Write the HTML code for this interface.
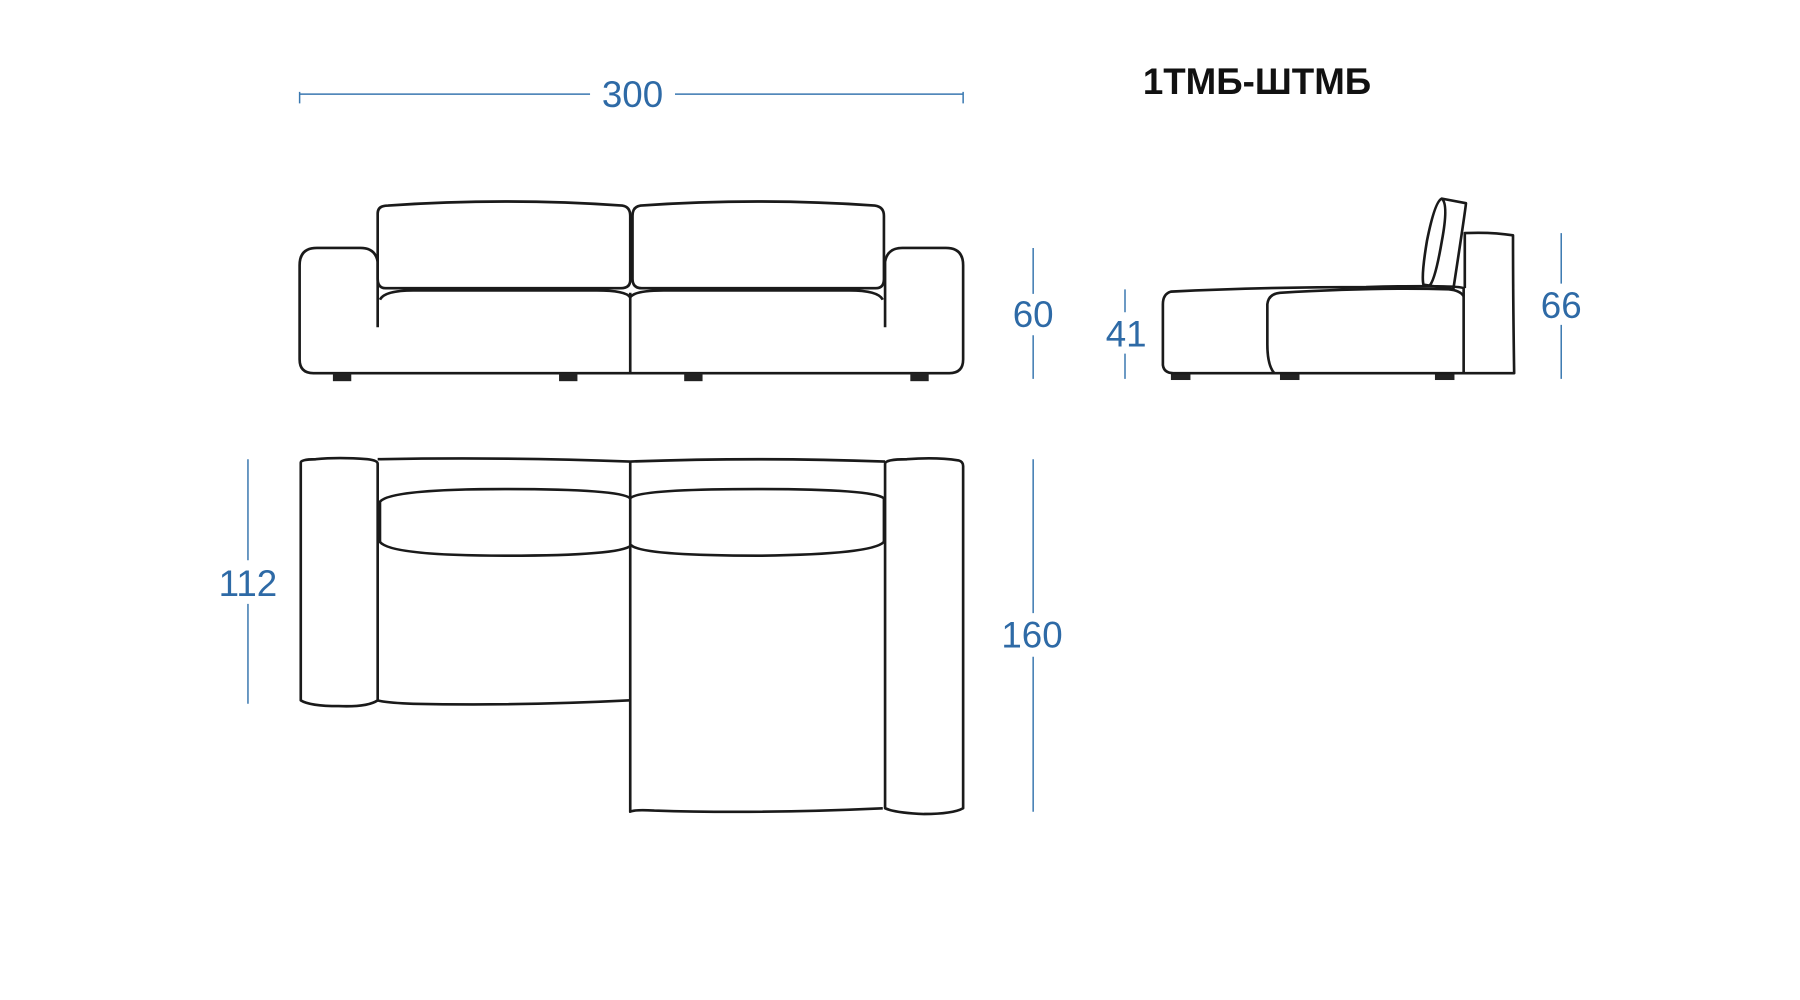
<!DOCTYPE html>
<html><head><meta charset="utf-8"><style>
html,body{margin:0;padding:0;background:#fff;width:1800px;height:1000px;overflow:hidden}
svg{display:block}
</style></head><body>
<svg width="1800" height="1000" viewBox="0 0 1568 871" preserveAspectRatio="none" xmlns="http://www.w3.org/2000/svg">
<rect width="1568" height="871" fill="#fff"/>
<g stroke="#3a78b0" stroke-width="1.3" fill="none">
<path d="M261 80 V90 M261 82 H514 M588 82 H839 M839 80 V90"/>
<path d="M900 216 V256 M900 292 V330"/>
<path d="M980 252 V272 M980 308 V330"/>
<path d="M1360 203 V247 M1360 283 V330"/>
<path d="M216 400 V488 M216 526 V613"/>
<path d="M900 400 V534 M900 572 V707"/>
</g>
<g fill="#2e6aa6" font-family="Liberation Sans, sans-serif" font-size="32" text-anchor="middle">
<text x="551" y="93">300</text>
<text x="900" y="285">60</text>
<text x="981" y="302">41</text>
<text x="1360" y="277">66</text>
<text x="216" y="519">112</text>
<text x="899" y="564">160</text>
</g>
<text x="1095" y="82" font-family="Liberation Sans, sans-serif" font-weight="bold" font-size="32" text-anchor="middle" fill="#111">1ТМБ-ШТМБ</text>
<g stroke="#1a1a1a" stroke-width="2.3" fill="none" stroke-linejoin="round">
<path d="M329 285 V228 Q327 216 314 216 H276 Q261 216 261 231 V313 Q261 325 273 325 H827 Q839 325 839 313 V231 Q839 216 824 216 H786 Q773 216 771 228 V285"/>
<path d="M549 325 V255"/>
<path d="M336 251 Q329 251 329 243 V186 Q329 179 338 179 Q440 172 542 179 Q549 180 549 188 V244 Q549 251 541 251 Z"/>
<path d="M559 251 Q551 251 551 243 V188 Q551 180 558 179 Q660 172 762 179 Q770 180 770 188 V243 Q770 251 763 251 Z"/>
<path d="M331 261 Q335 253 360 253 H520 Q545 253 549 259 Q553 253 578 253 H740 Q765 253 769 261"/>
<g fill="#222" stroke="none">
<rect x="290" y="325" width="16" height="7"/><rect x="487" y="325" width="16" height="7"/>
<rect x="596" y="325" width="16" height="7"/><rect x="793" y="325" width="16" height="7"/>
<rect x="1020" y="325" width="17" height="6"/><rect x="1115" y="325" width="17" height="6"/><rect x="1250" y="325" width="17" height="6"/>
</g>
<path d="M1275 325 V251 Q1270 248 1190 250 Q1100 250 1020 254 Q1013 256 1013 265 V318 Q1014 325 1022 325 H1319 Q1318 260 1318 205 Q1300 202 1276 203 V251"/>
<path d="M1110 325 Q1104 318 1104 300 V265 Q1105 256 1115 255 Q1200 250 1262 252 Q1272 253 1275 258"/>
<path d="M1256 173 L1277 177 Q1277 180 1266 252 L1240 248 Q1238 240 1243 210 Q1250 175 1256 173 Z"/>
<path d="M1256 173 Q1262 178 1256 210 Q1250 245 1245 249"/>
<path d="M262 403 Q262 400 275 400 Q295 398 320 400 Q329 401 329 404 V610 Q320 616 295 615 Q270 615 262 610 Z"/>
<path d="M771 404 Q771 400 790 400 Q815 398 835 401 Q839 402 839 406 V704 Q830 709 805 709 Q780 708 771 704 Z"/>
<path d="M329 400 Q440 398 549 402 Q660 398 771 402"/>
<path d="M549 402 V707 Q552 705 570 706 Q660 709 769 704"/>
<path d="M329 610 Q335 612 360 613 Q450 615 549 610"/>
<path d="M331 437 Q340 426 440 426 Q540 426 549 434 Q556 426 660 426 Q760 426 770 434 V472 Q760 483 660 484 Q560 484 550 475 Q540 484 440 484 Q340 484 331 472 Z"/>
</g>
</svg>
</body></html>
